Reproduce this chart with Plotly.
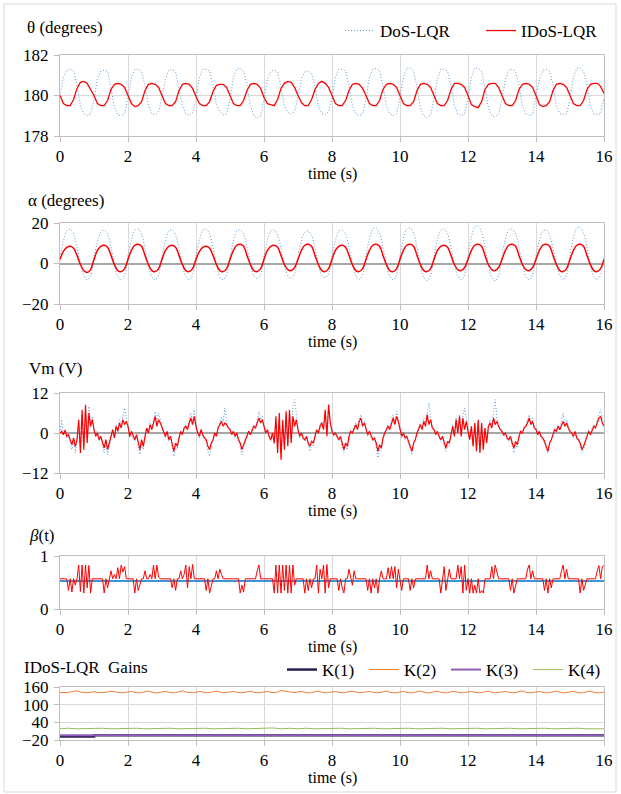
import plotly.graph_objects as go

W, H = 621, 794

# ---------------- data ----------------
t01 = [round(i * 0.1, 2) for i in range(161)]
t005 = [round(i * 0.05, 2) for i in range(321)]

theta_dos = [
    180.0, 180.9, 181.25, 181.3, 181.2, 180.5, 179.5, 179.1, 179.0, 179.1,
    179.8, 180.8, 181.2, 181.25, 181.2, 180.4, 179.4, 179.05, 179.0, 179.1,
    179.9, 180.9, 181.3, 181.3, 181.2, 180.5, 179.5, 179.1, 179.05, 179.2,
    179.9, 180.8, 181.25, 181.3, 181.15, 180.4, 179.5, 179.1, 179.0, 179.15,
    179.8, 180.9, 181.3, 181.3, 181.2, 180.5, 179.6, 179.2, 179.05, 179.1,
    179.8, 180.9, 181.3, 181.35, 181.2, 180.5, 179.5, 179.0, 178.9, 179.0,
    179.8, 180.8, 181.2, 181.25, 181.15, 180.4, 179.5, 179.15, 179.1, 179.2,
    179.9, 180.8, 181.2, 181.2, 181.1, 180.4, 179.5, 179.1, 179.05, 179.2,
    179.9, 180.9, 181.3, 181.3, 181.2, 180.5, 179.5, 179.1, 179.0, 179.1,
    179.8, 180.9, 181.3, 181.35, 181.2, 180.5, 179.5, 179.1, 179.0, 179.1,
    179.9, 180.9, 181.35, 181.35, 181.2, 180.4, 179.4, 179.0, 178.9, 179.05,
    179.8, 180.8, 181.3, 181.3, 181.2, 180.5, 179.5, 179.1, 179.0, 179.1,
    179.9, 180.9, 181.35, 181.35, 181.2, 180.4, 179.4, 179.0, 178.95, 179.1,
    179.8, 180.8, 181.25, 181.3, 181.2, 180.5, 179.5, 179.1, 179.0, 179.1,
    179.9, 180.8, 181.25, 181.3, 181.2, 180.5, 179.5, 179.1, 179.05, 179.1,
    179.8, 180.9, 181.35, 181.35, 181.2, 180.5, 179.5, 179.1, 179.05, 179.1,
    179.9,
]
theta_idos = [
    180.0, 179.6, 179.5, 179.5, 179.8, 180.35, 180.65, 180.7, 180.6, 180.3,
    180.0, 179.6, 179.5, 179.5, 179.75, 180.3, 180.55, 180.6, 180.55, 180.4,
    180.0, 179.6, 179.45, 179.5, 179.7, 180.25, 180.55, 180.6, 180.55, 180.4,
    180.0, 179.6, 179.5, 179.5, 179.7, 180.25, 180.55, 180.6, 180.55, 180.35,
    179.95, 179.6, 179.5, 179.5, 179.7, 180.2, 180.5, 180.55, 180.55, 180.4,
    180.0, 179.6, 179.5, 179.5, 179.75, 180.25, 180.55, 180.6, 180.55, 180.35,
    179.9, 179.6, 179.55, 179.5, 179.8, 180.35, 180.6, 180.7, 180.65, 180.4,
    180.0, 179.65, 179.5, 179.5, 179.8, 180.3, 180.6, 180.7, 180.6, 180.4,
    180.0, 179.6, 179.5, 179.5, 179.75, 180.25, 180.55, 180.6, 180.55, 180.35,
    180.0, 179.6, 179.5, 179.5, 179.75, 180.3, 180.55, 180.6, 180.55, 180.4,
    180.0, 179.6, 179.5, 179.5, 179.7, 180.25, 180.55, 180.6, 180.55, 180.4,
    180.0, 179.6, 179.5, 179.5, 179.75, 180.3, 180.6, 180.6, 180.55, 180.4,
    180.0, 179.55, 179.45, 179.4, 179.7, 180.3, 180.55, 180.6, 180.6, 180.4,
    180.0, 179.6, 179.5, 179.5, 179.75, 180.3, 180.55, 180.6, 180.55, 180.4,
    180.0, 179.55, 179.45, 179.5, 179.7, 180.25, 180.55, 180.6, 180.55, 180.4,
    180.0, 179.6, 179.5, 179.5, 179.75, 180.3, 180.55, 180.6, 180.6, 180.45,
    180.1,
]

alpha_dos = [
    3, 11, 16, 17, 14.5, 8, 0, -6, -8, -6,
    3.5, 10.5, 15.5, 16.5, 14.5, 8, 0, -6.5, -8, -6,
    4, 11.5, 16.5, 17, 14.5, 7.5, -0.5, -6.5, -8, -5.5,
    4, 11, 16, 16.5, 14, 7.5, -0.5, -6.5, -8, -5.5,
    4, 11.5, 16.5, 17, 14.5, 8, 0, -6.5, -8, -5.5,
    3.5, 11, 16, 16.5, 14.5, 8, 0, -6, -7.5, -5.5,
    4, 11.5, 16, 16.5, 14, 7.5, 0, -6, -7.5, -5,
    4, 11, 15.5, 16, 14, 7.5, 0, -6, -7, -5,
    4, 11, 16, 16.5, 14.5, 8, 0, -6, -8, -5.5,
    4, 12, 17, 17.5, 15, 8, 0, -6.5, -8, -5.5,
    4, 12, 17, 17.5, 15, 8, -0.5, -7, -8.5, -6,
    3.5, 11.5, 16.5, 17, 14.5, 8, 0, -6, -8, -5.5,
    4.5, 13, 18, 18.5, 15.5, 8, -1, -7, -8.5, -6,
    4, 12, 16.5, 17, 14.5, 8, 0, -6.5, -8, -5.5,
    4, 11.5, 16, 16.5, 14, 7.5, 0, -6, -8, -5.5,
    4.5, 12.5, 17.5, 18, 15, 8, -0.5, -6.5, -8, -5.5,
    3.5,
]
alpha_idos = [
    2, 6, 8, 8.5, 7.5, 4, -0.5, -3.5, -4.5, -3,
    2, 6.5, 8.5, 9, 8, 4, -0.5, -3.5, -4, -2.5,
    2, 6.5, 9, 9.5, 8.5, 4, -0.5, -3.5, -4, -2.5,
    2, 6.5, 8.5, 9, 8, 4, -0.5, -3.5, -4, -2.5,
    2, 6, 8, 8.5, 7.5, 4, -0.5, -3.5, -4, -2.5,
    2, 6.5, 9, 9.5, 8.5, 4, -0.5, -3.5, -4, -2.5,
    2, 6.5, 8.5, 9, 8, 4, -0.5, -3, -3.5, -2,
    2, 6.5, 9, 9.5, 8.5, 4, -0.5, -3.5, -4, -2.5,
    2, 6.5, 8.5, 9, 8, 4, -0.5, -3.5, -4, -2.5,
    2, 6.5, 9, 9.5, 8.5, 4, -0.5, -3.5, -4, -2.5,
    2, 6.5, 9, 9.5, 8.5, 4, -0.5, -3.5, -4, -2.5,
    2, 6.5, 8.5, 9, 8, 4, -0.5, -3, -3.5, -2,
    2, 6.5, 9, 9.5, 8.5, 4, -0.5, -3, -3.5, -2,
    2, 6.5, 9, 9.5, 8.5, 4, -0.5, -3, -3.5, -2,
    2, 6.5, 9, 9.5, 8.5, 4, -0.5, -3.5, -4, -2.5,
    2, 6.5, 9, 9.5, 8.5, 4, -0.5, -3.5, -4, -2.5,
    2,
]

vm_dos = [
    0, 4, -0.5, 1, -1.5, -1, -3, -5, -2, -6, -2, 3, -4, 5, -3, 6, 0, 8, 3, 5,
    1.5, -1, 0.5, -2.5, -1, -4, -6, -3, -6.5, -4, -1.5, 1, -1, 2.5, 1, 4, 2, 5.5, 7.5, 5,
    2.5, -1.5, 0.5, -1.5, -2.5, -1, -4, -6.5, -3, -5, -1.5, 1.5, 0, 3, 1.5, 4, 6.5, 3, 6, 4,
    2, 0, -1.5, 0.5, -2.5, -1.5, -4.5, -7, -4, -5, -2, 0.5, -0.5, 2, 2.5, 1.5, 4, 6, 3, 7,
    2.5, 0, -1.5, 1, -1, -2, -3, -5.5, -7, -4, -2.5, 0, -1, 2, 3, 5, 3.5, 7.5, 3, 2,
    1.5, -0.5, 0.5, -1.5, 0, -2.5, -4, -6.5, -4.5, -3, -1.5, 0.5, -0.5, 1.5, 2.5, 2, 4, 6.5, 4, 5,
    2.5, 0, 1, -1.5, -2.5, 0, -3.5, 3, -5, 4, -6, 3, -4, 5, -3, 6, -2, 8, 10, 5,
    1.5, -1.5, 0, -2, -2.5, -1.5, -4, -5.5, -3.5, -4, -1.5, 1, 0, 2.5, 3.5, 1.5, 5, 0, 7, 3.5,
    0.5, -1, 0, -1.5, -2.5, -1.5, -4.5, -6, -4, -5, -1.5, 0.5, 0, 2, 3, 1.5, 4.5, 5.5, 3, 3.5,
    1.5, -1, 0.5, -1.5, -2.5, -2, -4, -7.5, -4.5, -5.5, -2, 0, 1.5, 2.5, 1.5, 4, 5.5, 3, 6.5, 4,
    1.5, -1.5, 0, -2, -1.5, -3.5, -5, -6.5, -4, -2.5, 0, 2, 3, 1.5, 4.5, 3, 6.5, 9, 5, 2,
    1.5, -0.5, 0.5, -1.5, -2.5, -1.5, -4, -5.5, -3.5, -4, -1, 2.5, -0.5, 4.5, 0.5, 5.5, 0, 5.5, 7.5, 4.5,
    1, -2, 2, -3.5, 2.5, -5, 3, -5.5, 2.5, -4.5, 1.5, -2.5, 2.5, 4, 2, 6, 10, 4.5, 3, 1.5,
    0.5, -1, 0, -2, -2.5, -1.5, -4, -6, -3.5, -4.5, -1.5, 0.5, 0, 2, 2.5, 4, 5.5, 3, 4.5, 2,
    1.5, -0.5, 0.5, -1.5, -2, -3, -5, -6, -4, -2.5, -0.5, 1.5, 1, 2.5, 1.5, 3.5, 6, 2.5, 4, 2,
    0.5, 0, -1.5, 0.5, -2, -2.5, -4, -6, -5, -3, -1, 1, -0.5, 1.5, 2.5, 2, 4, 5.5, 7, 4.5,
    3,
]
vm_idos = [
    0, 0.5, -0.5, 0.8, -1, -0.5, -2, -3.5, -1.5, -4, -2, 4, -6, 7, -5, 8.5, -3, 6, 2, 4,
    1, -1, 0, -2, -1, -3, -4.5, -2, -5, -3, -1, 1, -1.5, 2, 0.5, 3, 1.5, 4, 2.5, 3.5,
    2, -1, 0.5, -1, -2, -0.5, -3, -5, -2, -4, -1, 1.5, 0, 2.5, 1, 3, 5, 2, 4, 3,
    1.5, 0, -1, 0.5, -2, -1, -3.5, -5.5, -3, -4, -1.5, 0.5, -0.5, 1.5, 2, 1, 3, 4.5, 2.5, 5,
    2, 0, -1, 1, -0.5, -1.5, -2, -4, -5, -3, -2, 0, -1, 1.5, 2.5, 3.5, 2, 3, 2.5, 1.5,
    1, -0.5, 0.5, -1, 0, -2, -3, -5, -3.5, -2, -1, 0.5, -0.5, 1, 2, 1.5, 3, 4.5, 3, 4,
    2, 0, 1, -1, -2, 0, -3, 5, -6, 6, -8, 4, -5, 6.5, -4, 7, -3, 5, 2, 4,
    1, -1, 0, -1.5, -2, -1, -3, -4, -2.5, -3, -1, 1, 0, 2, 3, 1, 7, -1, 8.5, 3,
    0.5, -0.5, 0, -1, -2, -1, -3.5, -5, -3, -4, -1, 0.5, 0, 1.5, 2.5, 1, 3.5, 4.5, 2, 3,
    1, -0.5, 0.5, -1, -2, -1.5, -3, -5.5, -3.5, -4.5, -1.5, 0, 1, 2, 1, 3, 4.5, 2.5, 5, 3.5,
    1, -1, 0, -1.5, -1, -2.5, -4, -5.5, -3, -2, 0, 1.5, 2.5, 1, 3.5, 2, 5.5, 2.5, 4, 1.5,
    1, -0.5, 0.5, -1, -2, -1, -3, -4.5, -2.5, -3, -0.5, 2, -1, 4, 0, 5, -1, 4.5, 1, 3.5,
    0.5, -2, 2, -4, 3, -5.5, 4, -6, 3, -5, 1.5, -3, 2, 3, 1.5, 4.5, 2.5, 3.5, 2, 1,
    0.5, -0.5, 0, -1.5, -2, -1, -3, -4.5, -2.5, -3.5, -1, 0.5, 0, 1.5, 2, 3, 4.5, 2.5, 3.5, 1.5,
    1, -0.5, 0.5, -1, -1.5, -2.5, -4, -5.5, -3, -2, -0.5, 1, 0.5, 2, 1, 2.5, 3.5, 2, 3, 1.5,
    0.5, 0, -1, 0.5, -1.5, -2, -3, -5, -4, -2.5, -1, 0.5, -0.5, 1, 2, 1.5, 3, 4.5, 5, 3,
    2,
]

beta_t = [0, 16]
beta_dos = [0.53, 0.53]
beta_idos = [
    0.57, 0.57, 0.58, 0.57, 0.57, 0.35, 0.57, 0.32, 0.57, 0.45, 0.57, 0.83, 0.33, 0.83, 0.3, 0.83, 0.4, 0.82, 0.3, 0.57,
    0.57, 0.57, 0.57, 0.57, 0.57, 0.57, 0.3, 0.57, 0.4, 0.57, 0.72, 0.57, 0.65, 0.57, 0.78, 0.57, 0.83, 0.7, 0.8, 0.57,
    0.57, 0.57, 0.57, 0.57, 0.3, 0.57, 0.35, 0.45, 0.57, 0.57, 0.72, 0.57, 0.57, 0.65, 0.57, 0.83, 0.57, 0.83, 0.6, 0.57,
    0.57, 0.57, 0.57, 0.57, 0.57, 0.57, 0.4, 0.57, 0.35, 0.57, 0.57, 0.72, 0.57, 0.65, 0.83, 0.4, 0.8, 0.57, 0.84, 0.57,
    0.57, 0.57, 0.57, 0.57, 0.57, 0.57, 0.35, 0.57, 0.3, 0.45, 0.57, 0.57, 0.72, 0.57, 0.75, 0.65, 0.57, 0.57, 0.57, 0.57,
    0.57, 0.57, 0.57, 0.57, 0.57, 0.57, 0.3, 0.45, 0.32, 0.57, 0.57, 0.57, 0.57, 0.57, 0.57, 0.57, 0.72, 0.83, 0.57, 0.57,
    0.57, 0.57, 0.57, 0.57, 0.57, 0.57, 0.3, 0.83, 0.3, 0.83, 0.3, 0.83, 0.35, 0.83, 0.3, 0.83, 0.3, 0.83, 0.45, 0.57,
    0.57, 0.57, 0.57, 0.57, 0.3, 0.57, 0.35, 0.57, 0.4, 0.57, 0.57, 0.83, 0.3, 0.75, 0.57, 0.83, 0.3, 0.84, 0.4, 0.57,
    0.57, 0.57, 0.57, 0.57, 0.35, 0.57, 0.4, 0.3, 0.57, 0.57, 0.75, 0.57, 0.45, 0.72, 0.57, 0.57, 0.57, 0.57, 0.57, 0.57,
    0.57, 0.35, 0.57, 0.3, 0.57, 0.4, 0.57, 0.3, 0.57, 0.72, 0.57, 0.57, 0.57, 0.78, 0.57, 0.8, 0.57, 0.8, 0.4, 0.75,
    0.57, 0.35, 0.57, 0.57, 0.57, 0.57, 0.35, 0.57, 0.4, 0.57, 0.57, 0.57, 0.57, 0.57, 0.57, 0.57, 0.83, 0.57, 0.72, 0.57,
    0.57, 0.57, 0.57, 0.57, 0.3, 0.57, 0.8, 0.35, 0.57, 0.75, 0.57, 0.57, 0.57, 0.57, 0.83, 0.57, 0.8, 0.3, 0.83, 0.35,
    0.57, 0.3, 0.57, 0.3, 0.45, 0.3, 0.57, 0.3, 0.35, 0.3, 0.57, 0.57, 0.57, 0.57, 0.8, 0.57, 0.83, 0.72, 0.57, 0.57,
    0.57, 0.57, 0.57, 0.57, 0.57, 0.35, 0.57, 0.3, 0.45, 0.57, 0.57, 0.57, 0.57, 0.57, 0.57, 0.75, 0.83, 0.57, 0.72, 0.57,
    0.57, 0.57, 0.57, 0.57, 0.57, 0.35, 0.57, 0.3, 0.57, 0.4, 0.57, 0.57, 0.57, 0.57, 0.57, 0.72, 0.83, 0.57, 0.75, 0.57,
    0.57, 0.57, 0.57, 0.57, 0.57, 0.57, 0.3, 0.57, 0.35, 0.45, 0.57, 0.57, 0.57, 0.57, 0.57, 0.57, 0.72, 0.82, 0.57, 0.8,
    0.82,
]

k1_t = [0, 0.2, 0.4, 0.6, 0.8, 0.9, 1.0, 16]
k1 = [-8, -8.5, -8, -8.5, -8, -8, -4, -4]
k2 = [
    141, 140, 141, 143, 145, 147, 143, 141, 140, 142,
    144, 141, 140, 141, 143, 146, 144, 141, 140, 141,
    144, 145, 142, 140, 141, 144, 146, 142, 140, 141,
    144, 145, 142, 140, 141, 145, 147, 143, 141, 140,
    142, 145, 143, 140, 141, 144, 146, 143, 140, 141,
    144, 145, 142, 140, 141, 144, 146, 142, 140, 141,
    143, 145, 142, 141, 143, 148, 146, 144, 142, 141,
    143, 145, 142, 140, 141, 144, 146, 142, 140, 141,
    143, 145, 142, 140, 141, 145, 146, 142, 140, 141,
    144, 145, 142, 140, 141, 144, 146, 142, 140, 141,
    144, 145, 142, 140, 141, 144, 146, 142, 140, 141,
    144, 146, 142, 140, 141, 144, 146, 142, 140, 141,
    144, 145, 142, 140, 141, 144, 146, 142, 140, 141,
    144, 145, 142, 140, 141, 144, 147, 142, 140, 141,
    144, 145, 142, 140, 141, 144, 146, 142, 140, 141,
    144, 145, 142, 140, 141, 144, 146, 142, 140, 141,
    143,
]
k3_t = [0, 4, 8, 12, 16]
k3 = [-4, -4, -4, -4, -4]
k4_t = [round(i * 0.25, 2) for i in range(65)]
k4 = [
    18, 20, 18, 19, 18, 20, 18, 19, 18, 20, 18, 19, 18, 20, 18, 19,
    18, 20, 18, 19, 18, 20, 18, 19, 18, 21, 18, 20, 18, 20, 18, 19,
    18, 20, 18, 19, 18, 20, 18, 19, 18, 20, 18, 19, 18, 20, 18, 19,
    18, 20, 18, 19, 18, 20, 18, 19, 18, 20, 18, 19, 18, 20, 18, 19,
    18,
]

x_ticks = [0, 2, 4, 6, 8, 10, 12, 14, 16]

# ---------------- figure ----------------
FONT = "Liberation Serif, Times New Roman, serif"
BLUE = "#5b9bd5"
RED = "#ff0000"
GRID = "#d9d9d9"
AX = "#bfbfbf"
TICK = 17

X0, X1 = 60, 604
panels = [  # (top px, bottom px)
    (55, 136),
    (223, 304),
    (393, 473),
    (556, 609),
    (687, 740),
]


def ydom(top, bot):
    return [1 - bot / H, 1 - top / H]


fig = go.Figure()

DOT = "1px,2px"

# panel 1
fig.add_trace(go.Scatter(x=t01, y=theta_dos, mode="lines", name="DoS-LQR",
                         line=dict(color=BLUE, width=1, dash=DOT),
                         xaxis="x", yaxis="y", legend="legend"))
fig.add_trace(go.Scatter(x=t01, y=theta_idos, mode="lines", name="IDoS-LQR",
                         line=dict(color=RED, width=1.3),
                         xaxis="x", yaxis="y", legend="legend"))
# panel 2
fig.add_trace(go.Scatter(x=t01, y=alpha_dos, mode="lines", showlegend=False,
                         line=dict(color=BLUE, width=1, dash=DOT, shape="spline"),
                         xaxis="x2", yaxis="y2"))
fig.add_trace(go.Scatter(x=t01, y=alpha_idos, mode="lines", showlegend=False,
                         line=dict(color=RED, width=1.5, shape="spline"),
                         xaxis="x2", yaxis="y2"))
# panel 3
fig.add_trace(go.Scatter(x=t005, y=vm_dos, mode="lines", showlegend=False,
                         line=dict(color=BLUE, width=1, dash=DOT),
                         xaxis="x3", yaxis="y3"))
fig.add_trace(go.Scatter(x=t005, y=vm_idos, mode="lines", showlegend=False,
                         line=dict(color=RED, width=1.2),
                         xaxis="x3", yaxis="y3"))
# panel 4
fig.add_trace(go.Scatter(x=beta_t, y=beta_dos, mode="lines", showlegend=False,
                         line=dict(color="#0070c0", width=1.5),
                         xaxis="x4", yaxis="y4"))
fig.add_trace(go.Scatter(x=t005, y=beta_idos, mode="lines", showlegend=False,
                         line=dict(color=RED, width=1),
                         xaxis="x4", yaxis="y4"))
# panel 5
fig.add_trace(go.Scatter(x=k1_t, y=k1, mode="lines", name="K(1)",
                         line=dict(color="#2b1d4e", width=2.5, shape="hv"),
                         xaxis="x5", yaxis="y5", legend="legend2"))
fig.add_trace(go.Scatter(x=t01, y=k2, mode="lines", name="K(2)",
                         line=dict(color="#ed7d31", width=1),
                         xaxis="x5", yaxis="y5", legend="legend2"))
fig.add_trace(go.Scatter(x=k3_t, y=k3, mode="lines", name="K(3)",
                         line=dict(color="#8e5fb8", width=2),
                         xaxis="x5", yaxis="y5", legend="legend2"))
fig.add_trace(go.Scatter(x=k4_t, y=k4, mode="lines", name="K(4)",
                         line=dict(color="#9bbb59", width=1),
                         xaxis="x5", yaxis="y5", legend="legend2"))

yconf = [
    dict(range=[178, 182], tickvals=[178, 180, 182]),
    dict(range=[-20, 20], tickvals=[-20, 0, 20], zeroline=True),
    dict(range=[-12, 12], tickvals=[-12, 0, 12], zeroline=True),
    dict(range=[0, 1], tickvals=[0, 1]),
    dict(range=[-20, 160], tickvals=[-20, 40, 100, 160]),
]

layout = dict(
    width=W, height=H,
    margin=dict(l=0, r=0, t=0, b=0, autoexpand=False),
    paper_bgcolor="white", plot_bgcolor="white",
    font=dict(family=FONT, size=17, color="black"),
    legend=dict(orientation="h", x=622 / W, xanchor="right",
                y=1 - 31 / H, yanchor="middle",
                bgcolor="rgba(0,0,0,0)", font=dict(size=17),
                itemwidth=30, tracegroupgap=0, entrywidth=96),
    legend2=dict(orientation="h", x=610 / W, xanchor="right",
                 y=1 - 670 / H, yanchor="middle",
                 bgcolor="rgba(0,0,0,0)", font=dict(size=17),
                 itemwidth=30, tracegroupgap=0, entrywidth=37),
)

for i, ((top, bot), yc) in enumerate(zip(panels, yconf)):
    sfx = "" if i == 0 else str(i + 1)
    layout["xaxis" + sfx] = dict(
        domain=[X0 / W, X1 / W], range=[0, 16], tickvals=x_ticks,
        anchor="y" + sfx, showgrid=True, gridcolor=GRID, gridwidth=1,
        showline=True, linecolor=AX, linewidth=1, mirror=True,
        ticks="outside", ticklen=5, tickcolor=AX, zeroline=False,
        tickfont=dict(size=TICK), automargin=False,
    )
    yd = dict(
        domain=ydom(top, bot), anchor="x" + sfx, showgrid=True,
        gridcolor=GRID, gridwidth=1, showline=True, linecolor=AX,
        linewidth=1, mirror=True, ticks="outside", ticklen=5,
        tickcolor=AX, zeroline=False, zerolinecolor="#a6a6a6",
        zerolinewidth=1.5, tickfont=dict(size=TICK),
        ticklabelstandoff=2, automargin=False,
    )
    yd.update(yc)
    layout["yaxis" + sfx] = yd

fig.update_layout(**layout)

titles = [
    ("θ (degrees)", 25, 28),
    ("α (degrees)", 26, 200),
    ("Vm (V)", 27, 368),
    ("<i>β</i>(t)", 27, 535),
    ("IDoS-LQR  Gains", 22, 667),
]
for txt, xp, yp in titles:
    fig.add_annotation(text=txt, xref="paper", yref="paper",
                       x=xp / W, y=1 - yp / H, xanchor="left",
                       yanchor="middle", showarrow=False,
                       font=dict(size=17))

for (top, bot) in panels:
    fig.add_annotation(text="time (s)", xref="paper", yref="paper",
                       x=332 / W, y=1 - (bot + 38) / H, xanchor="center",
                       yanchor="middle", showarrow=False,
                       font=dict(size=16))

fig.add_shape(type="rect", xref="paper", yref="paper",
              x0=4 / W, x1=616 / W, y0=1 - 792 / H, y1=1 - 4 / H,
              line=dict(color="#d9d9d9", width=1), fillcolor="rgba(0,0,0,0)",
              layer="below")

fig.write_html("out.html", config={"displayModeBar": False},
               post_script="document.body.style.margin='0px';")
